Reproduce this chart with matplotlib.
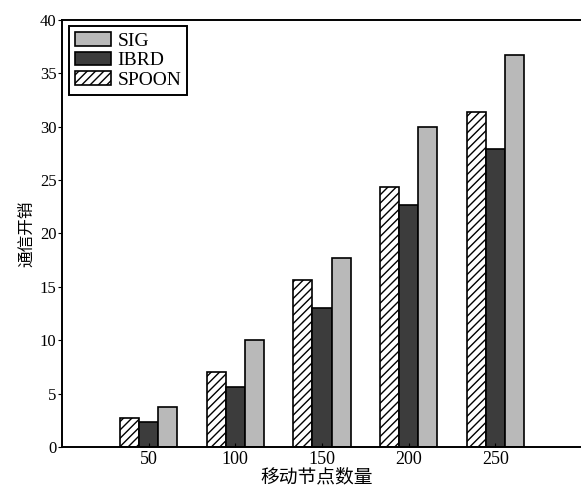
import numpy as np
import matplotlib
matplotlib.use('Agg')
import matplotlib.pyplot as plt

plt.rcParams['font.family'] = ['Liberation Serif', 'Noto Sans CJK SC']
plt.rcParams['hatch.linewidth'] = 1.0

# data
nodes = [50, 100, 150, 200, 250]
spoon = [2.75, 7.0, 15.6, 24.4, 31.4]
ibrd = [2.3, 5.65, 13.0, 22.7, 27.9]
sig = [3.7, 10.0, 17.7, 30.0, 36.7]

x = np.array(nodes, dtype=float)
w = 11

fig = plt.figure(figsize=(5.81, 4.90), dpi=100)
# right edge of the axes sits just outside the picture, as in the reference
ax = fig.add_axes([0.1067, 0.088, 0.91, 0.871])

b_spoon = ax.bar(x - w, spoon, w, color='white', edgecolor='black', hatch='////', linewidth=1.2, label='SPOON')
b_ibrd = ax.bar(x, ibrd, w, color='#3c3c3c', edgecolor='black', linewidth=1.2, label='IBRD')
b_sig = ax.bar(x + w, sig, w, color='#b9b9b9', edgecolor='black', linewidth=1.2, label='SIG')

ax.set_xlim(0, 305)
ax.set_ylim(0, 40)
ax.set_xticks(nodes)
ax.set_yticks(range(0, 41, 5))
ax.tick_params(axis='y', direction='out', length=3, labelsize=12, pad=1)
ax.tick_params(axis='x', direction='in', length=3, labelsize=13, pad=3)
for s in ax.spines.values():
    s.set_linewidth(1.4)

ax.set_xlabel('移动节点数量', fontsize=13.5)
ax.xaxis.set_label_coords(0.482, -0.052)
ax.set_ylabel('通信开销', fontsize=12, labelpad=3)

leg = ax.legend([b_sig, b_ibrd, b_spoon], ['SIG', 'IBRD', 'SPOON'],
                loc='upper left', bbox_to_anchor=(0.006, 0.995), fontsize=14,
                fancybox=False, edgecolor='black', framealpha=1,
                handlelength=1.85, handleheight=0.7, handletextpad=0.35,
                labelspacing=0.1, borderpad=0.3, borderaxespad=0.2)
leg.get_frame().set_linewidth(1.4)

fig.savefig('out.png', dpi=100)
